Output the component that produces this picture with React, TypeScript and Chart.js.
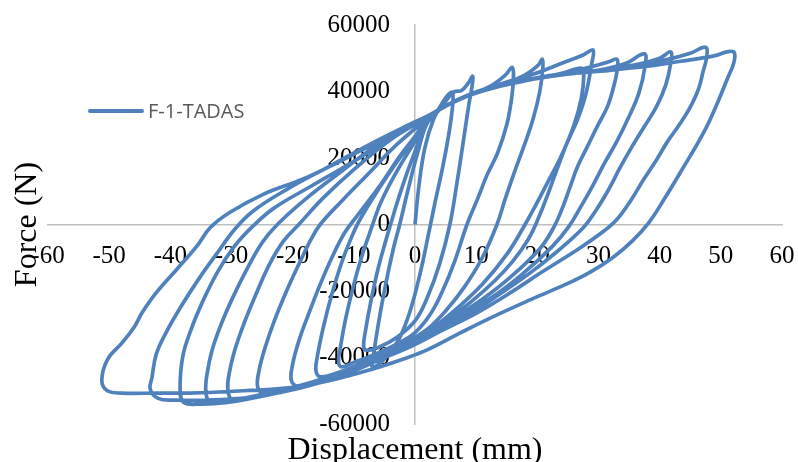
import React, { useEffect, useRef } from 'react';
import { Chart, registerables } from 'chart.js';

Chart.register(...registerables);

// ---- axis settings / labels ----
const xTitle = 'Displacement (mm)';
const yTitle = 'Force (N)';
const seriesName = 'F-1-TADAS';
const xRange = [-60, 60];
const yRange = [-60000, 60000];
const xStep = 10;
const yStep = 20000;

// ---- hysteresis data: [displacement (mm), force (N)] ----
// first excursion: origin -> +6 -> -7
const loop01: number[][] = [
  [0, 0], [0.6, 11000], [1.6, 23000], [3, 31500], [4.6, 37000], [6, 39800],
  [6.2, 37000], [5.6, 28000], [4.5, 17000], [3.2, 6000], [2.2, -3000], [0.8, -15000],
  [-0.8, -26000], [-2.5, -34000], [-4.5, -39500], [-6.3, -42500], [-7, -43000],
];
// -7 -> +9.5 -> -8.2
const loop02: number[][] = [
  [-6.8, -39500], [-6, -30000], [-4.8, -18000], [-3.5, -7000], [-2.5, 0], [-1.2, 10000],
  [0.5, 22000], [2, 30500], [4.1, 34700], [5.6, 38500], [6.5, 40000], [7.6, 40300],
  [8.7, 42500], [9.4, 44600],
  [9.4, 42500], [8.8, 36000], [7.9, 25000], [6.9, 13000], [5.7, 0], [4, -12000],
  [2, -22000], [0, -29000], [-3, -34000], [-6, -37000], [-8, -37800], [-8.4, -36500],
];
// -8.2 -> +16 -> -12.3
const loop03: number[][] = [
  [-8.1, -32000], [-7.2, -23000], [-6, -13000], [-4.8, -5000], [-4, 0], [-2.5, 9000],
  [-0.5, 19500], [2, 30500], [4.1, 34700], [8.5, 38600], [12.5, 41800], [14.8, 45000],
  [15.9, 47300],
  [16.1, 44500], [15.8, 38000], [15, 30000], [13.5, 21500], [11.8, 15000], [10.3, 8000],
  [8.5, 0], [6.5, -11000], [4.5, -20000], [2.5, -27000], [0, -32500], [-3, -36000],
  [-6.5, -39000], [-10, -41500], [-12, -42800], [-12.5, -41500],
];
// -12.3 -> +21 -> -16
const loop04: number[][] = [
  [-12.2, -37000], [-11.3, -28000], [-10, -18000], [-8.6, -9000], [-7.2, -1500],
  [-5.5, 7000], [-2.5, 17500], [0, 25000], [2, 31500], [4.1, 34700], [8.5, 38600],
  [13.9, 41800], [18, 45000], [20.2, 48000], [20.8, 49700],
  [20.9, 47000], [20.4, 40000], [19.3, 31700], [17.9, 24000], [16.3, 16000],
  [14.8, 8000], [13.4, 0], [11, -10000], [8, -19000], [5, -26000], [2, -31500],
  [-1.5, -35500], [-5, -38500], [-9, -42000], [-13, -44800], [-15.5, -45800],
  [-16.2, -44000],
];
// -16 -> +27.5 -> -20
const loop05: number[][] = [
  [-16, -40000], [-15, -31000], [-13.6, -21000], [-12, -11500], [-10.3, -3500],
  [-9, 1500], [-6, 10500], [-2.5, 20000], [0, 26000], [2, 31500], [4.1, 34700],
  [8.5, 38600], [13.9, 41600], [19.3, 43700], [24, 45500], [27.3, 47000],
  [27.6, 45000], [27.2, 38000], [26, 30000], [24, 21000], [21.5, 12000], [19.5, 5000],
  [18, 0], [15, -9000], [11, -18000], [7, -25000], [3, -31000], [-1, -35500],
  [-5, -39500], [-10, -43500], [-15, -46500], [-19, -48600], [-20.2, -47000],
];
// -20 -> +29.2 -> -25.5
const loop06: number[][] = [
  [-20, -42000], [-18.9, -34500], [-17.2, -26000], [-15.5, -18000], [-13.6, -10000],
  [-11.5, -2500], [-9.5, 2500], [-6, 11000], [-2.5, 20500], [0, 26500], [2, 31800],
  [4.1, 34700], [8.5, 38800], [13.9, 42200], [19.3, 45200], [24, 48500], [27.5, 51000],
  [29.1, 52500],
  [28.9, 48500], [27.9, 39000], [26.6, 31700], [24.9, 24700], [23.2, 16500], [21.7, 9000],
  [20.2, 2000], [18.5, -4500], [16, -11000], [13, -17000], [9, -23500], [5, -29000],
  [1, -33500], [-3, -37500], [-8, -41500], [-13, -45000], [-17, -47500], [-21, -49500],
  [-24.5, -50800], [-25.7, -49000],
];
// -25.5 -> +33 -> -30
const loop07: number[][] = [
  [-25.5, -44000], [-24.5, -37000], [-23, -29000], [-21, -20000], [-19, -12000],
  [-17, -4500], [-15.5, 0], [-12, 7000], [-7.5, 15500], [-3, 24000], [2, 31800],
  [4.1, 34700], [8.5, 38600], [13.9, 41700], [19.3, 43900], [24.9, 45700], [29, 47500],
  [31.8, 49000], [33, 49700],
  [33.1, 47000], [32.5, 41600], [31.5, 35600], [29.8, 29500], [28.2, 23500],
  [26.6, 17500], [25.3, 11000], [24, 4500], [22.5, -1500], [20.3, -7500], [15.5, -16000],
  [11, -22500], [6, -28500], [1.5, -33000], [-3, -37500], [-8, -41800], [-13, -45500],
  [-18, -48500], [-23, -50800], [-27.5, -52300], [-30, -52500], [-30.6, -49500],
];
// -30 -> +38 -> -33.6
const loop08: number[][] = [
  [-30.4, -45000], [-29.5, -38000], [-28, -30000], [-26, -21000], [-23.8, -12000],
  [-21.5, -5000], [-19, 0], [-15, 8000], [-10, 16500], [-4, 25500], [2, 32200],
  [4.1, 34700], [8.5, 38600], [13.9, 41600], [19.3, 43700], [24.9, 45300], [30.3, 46500],
  [34.5, 48500], [37.5, 51300],
  [37.6, 47500], [36.6, 39500], [34.8, 31700], [33, 25000], [31, 18500], [29, 11500],
  [27, 5000], [25.2, -500], [22.5, -6500], [17.5, -15000], [12.5, -22000], [7, -28000],
  [2, -33000], [-2.5, -37000], [-8, -41500], [-14, -45800], [-20, -49000],
  [-26, -51500], [-31, -53300], [-33.6, -53300], [-34.2, -50000],
];
// -33.6 -> +42 -> -38
const loop09: number[][] = [
  [-34, -45000], [-33.2, -38000], [-31.8, -30500], [-29.8, -22000], [-27.5, -13500],
  [-25, -5500], [-22.5, 0], [-18, 7500], [-12, 16000], [-5, 25500], [2, 32400],
  [4.1, 34700], [8.5, 38600], [13.9, 41600], [19.3, 43700], [24.9, 45200], [30.3, 46300],
  [36, 48000], [40, 50000], [41.8, 51900],
  [41.8, 48500], [41, 42000], [39.5, 35500], [37.5, 29500], [35.5, 23500], [33.5, 17000],
  [31.5, 10000], [29.5, 4000], [27.5, -1000], [23, -8500], [18.5, -15000], [13, -22000],
  [7.5, -28500], [2, -33500], [-2.5, -37500], [-8, -42000], [-14, -46200],
  [-20, -49500], [-26, -52000], [-31, -53600], [-35, -54000], [-37.8, -53500],
  [-38.4, -50000],
];
// -38 -> +47.8 -> -43
const loop10: number[][] = [
  [-38, -40000], [-36.8, -32500], [-34.8, -23500], [-32.2, -14000], [-29.5, -6500],
  [-26.5, -500], [-23, 5000], [-17, 11500], [-10, 19000], [-4, 26000], [2, 32500],
  [4.1, 34700], [8.5, 38700], [13.9, 41700], [19.3, 43800], [24.9, 45300], [30.3, 46400],
  [36, 47800], [41, 49500], [45, 51500], [47.5, 53300],
  [47.7, 50500], [47.1, 46000], [46.4, 41000], [45.2, 36000], [43.4, 30500],
  [41.3, 25000], [39.5, 19500], [37.4, 13600], [35.2, 7000], [33, 1500], [30.5, -2500],
  [26.6, -7500], [21, -14000], [15.6, -20500], [10.2, -26500], [4.6, -31700],
  [-0.8, -36800], [-5, -40000], [-10, -44000], [-16, -47800], [-22, -50500],
  [-28, -52200], [-34, -52800], [-39, -52800], [-42, -52300], [-43.3, -49500],
];
// -43 -> +52 -> -51
const loop11: number[][] = [
  [-43, -46000], [-42.3, -39000], [-40.7, -32500], [-38.2, -24500], [-35.4, -16500],
  [-32.5, -9000], [-29.5, -1500], [-26.5, 4000], [-21, 10500], [-14, 17500],
  [-7, 24500], [-1, 30000], [2, 32600], [4.1, 34700], [8.5, 38600], [13.9, 41600],
  [19.3, 43700], [24.9, 45200], [30.3, 46100], [38, 47600], [43.4, 49100],
  [48.9, 50700], [51.2, 52000], [52.2, 51700],
  [52.1, 48500], [51.1, 44000], [49.5, 36800], [47.2, 27700], [43.4, 15700],
  [40.7, 7500], [38.2, 500], [35.5, -5000], [32.3, -10000], [28.5, -14500],
  [24.9, -17800], [18.9, -22600], [12.8, -27700], [7.4, -32600], [2, -37700],
  [-2, -40500], [-7, -43500], [-13, -46500], [-20, -49000], [-28, -50000],
  [-36.9, -50700], [-42.3, -50700], [-47.9, -50700], [-50.3, -50000], [-51.2, -47000],
];
// final reload from -51
const loop12: number[][] = [
  [-50.3, -40700], [-47.9, -35600], [-45.9, -30800], [-44.6, -26500], [-42.3, -20500],
  [-39, -13600], [-35.7, -6600], [-33.5, -1000], [-30.3, 3600], [-24.9, 9000],
  [-18.4, 13600], [-13.9, 17500], [-8.5, 22600], [-3, 27700], [2, 32600], [4.5, 35000],
];

const loops = [loop01, loop02, loop03, loop04, loop05, loop06, loop07, loop08, loop09, loop10, loop11, loop12];

const BLUE = '#4F81BD';
const AXIS = '#BFBFBF';
const SERIF = '"Liberation Serif", "Times New Roman", serif';

const overlayPlugin = {
  id: 'overlay',
  afterDraw(chart: any) {
    const { ctx, chartArea } = chart;
    const cx = (chartArea.left + chartArea.right) / 2;
    const cy = (chartArea.top + chartArea.bottom) / 2;
    ctx.save();
    ctx.fillStyle = '#000';
    ctx.font = `32px ${SERIF}`;
    ctx.textAlign = 'center';
    ctx.textBaseline = 'alphabetic';
    ctx.fillText(xTitle, cx, chart.height - 3);
    ctx.save();
    ctx.translate(chartArea.left - 12, cy);
    ctx.rotate(-Math.PI / 2);
    ctx.fillText(yTitle, 0, 0);
    ctx.restore();
    // legend
    const lx = chartArea.left + 42;
    const ly = chartArea.top + 86;
    ctx.strokeStyle = BLUE;
    ctx.lineWidth = 4;
    ctx.lineCap = 'round';
    ctx.beginPath();
    ctx.moveTo(lx, ly);
    ctx.lineTo(lx + 52, ly);
    ctx.stroke();
    ctx.fillStyle = '#595959';
    ctx.font = '20px "Open Sans", sans-serif';
    ctx.textAlign = 'left';
    ctx.textBaseline = 'middle';
    ctx.fillText(seriesName, lx + 58, ly + 1);
    ctx.restore();
  },
};

const zeroPadding = (scale: any) => {
  scale.paddingTop = 0;
  scale.paddingBottom = 0;
  scale.paddingLeft = 0;
  scale.paddingRight = 0;
};

export default function App() {
  const ref = useRef<HTMLCanvasElement | null>(null);
  useEffect(() => {
    if (!ref.current) return;
    const points = loops.flat().map(([x, y]) => ({ x, y }));
    const chart = new Chart(ref.current, {
      type: 'scatter',
      data: {
        datasets: [
          {
            label: seriesName,
            data: points,
            showLine: true,
            borderColor: BLUE,
            backgroundColor: BLUE,
            borderWidth: 3.7,
            pointRadius: 0,
            tension: 0.4,
          },
        ],
      },
      plugins: [overlayPlugin],
      options: {
        animation: false,
        responsive: false,
        devicePixelRatio: 1,
        layout: { padding: { left: 48, right: 16, top: 25, bottom: 38 } },
        plugins: { legend: { display: false }, tooltip: { enabled: false } },
        scales: {
          x: {
            type: 'linear',
            position: { y: 0 } as any,
            min: xRange[0],
            max: xRange[1],
            afterFit: zeroPadding,
            grid: { display: false, drawTicks: false },
            border: { display: true, color: AXIS, width: 1.5 },
            ticks: {
              stepSize: xStep,
              autoSkip: false,
              maxRotation: 0,
              padding: 17,
              color: '#000',
              font: { family: SERIF, size: 25 },
              callback: (v: any) => String(v),
            },
          },
          y: {
            type: 'linear',
            position: { x: 0 } as any,
            min: yRange[0],
            max: yRange[1],
            afterFit: zeroPadding,
            grid: { display: false, drawTicks: false },
            border: { display: true, color: AXIS, width: 1.5 },
            ticks: {
              stepSize: yStep,
              autoSkip: false,
              padding: 0,
              color: '#000',
              font: { family: SERIF, size: 25 },
              // trailing spaces keep the labels clear of the axis line
              callback: (v: any) => String(v) + '    ',
            },
          },
        },
      },
    });
    return () => chart.destroy();
  }, []);
  return (
    <div style={{ position: 'fixed', left: 0, top: 0, width: 798, height: 462, background: '#fff' }}>
      <canvas ref={ref} width={798} height={462} style={{ width: 798, height: 462 }} />
    </div>
  );
}
